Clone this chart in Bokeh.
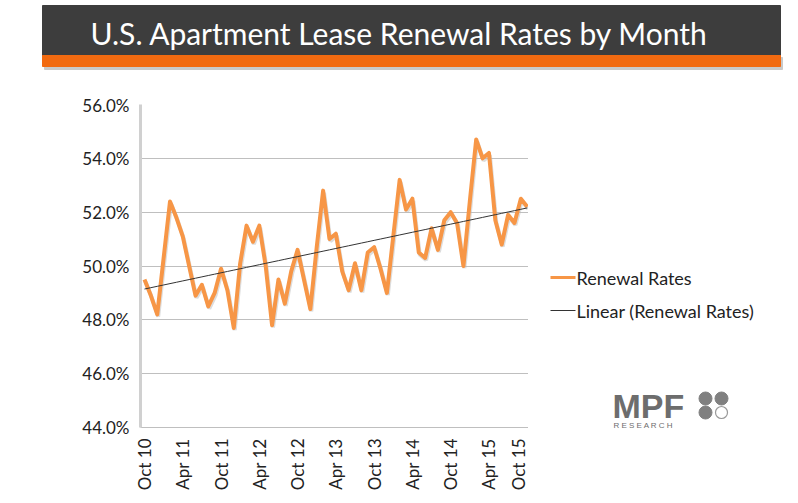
import numpy as np
from bokeh.plotting import figure
from bokeh.layouts import column, row
from bokeh.models import Range1d, FixedTicker, NumeralTickFormatter
from bokeh.core.properties import value
from bokeh.embed import file_html
from bokeh.resources import INLINE

title = "U.S. Apartment Lease Renewal Rates by Month"
rates = [49.5, 48.9, 48.2, 50.3, 52.4, 51.8, 51.1, 50.0, 48.9, 49.3,
         48.5, 49.0, 49.9, 49.1, 47.7, 50.1, 51.5, 50.9, 51.5, 50.0,
         47.8, 49.5, 48.6, 49.8, 50.6, 49.5, 48.4, 50.7, 52.8, 51.0,
         51.2, 49.8, 49.1, 50.1, 49.1, 50.5, 50.7, 49.9, 49.0, 51.1,
         53.2, 52.1, 52.5, 50.5, 50.3, 51.4, 50.6, 51.7, 52.0, 51.6,
         50.0, 52.4, 54.7, 54.0, 54.2, 51.7, 50.8, 51.9, 51.6, 52.5, 52.2]
tick_months = [0, 6, 12, 18, 24, 30, 36, 42, 48, 54, 60]
tick_labels = ["Oct 10", "Apr 11", "Oct 11", "Apr 12", "Oct 12", "Apr 13",
               "Oct 13", "Apr 14", "Oct 14", "Apr 15", "Oct 15"]
y_ticks = [44, 46, 48, 50, 52, 54, 56]

months = np.arange(len(rates))
slope, icpt = np.polyfit(months, rates, 1)
trend = slope * months + icpt
FONT = value("Lato")

# --- header ---
h = figure(width=790, height=94, x_range=Range1d(0, 790), y_range=Range1d(94, 0),
           output_backend="svg", toolbar_location=None, min_border=0)
h.axis.visible = False
h.grid.visible = False
h.outline_line_color = None
h.quad(left=[44], right=[782], top=[57], bottom=[69], color="#c9c9c9")
h.quad(left=[42], right=[780], top=[5], bottom=[55], color="#3d3d3d")
h.quad(left=[42], right=[780], top=[55], bottom=[66], color="#f26a10")
h.text(x=[399], y=[32], text=[title], text_align="center", text_baseline="middle",
       text_color="white", text_font=FONT, text_font_size="30px")

# --- main chart ---
p = figure(width=528, height=403, x_range=Range1d(-0.625, 60.2), y_range=Range1d(44, 56),
           output_backend="svg", toolbar_location=None,
           min_border_left=140, min_border_right=0, min_border_top=10, min_border_bottom=70)
p.outline_line_color = None
p.xgrid.visible = False
p.ygrid.grid_line_color = "#bfbfbf"
p.ygrid.grid_line_width = 1.2
p.yaxis.ticker = FixedTicker(ticks=y_ticks)
p.yaxis.formatter = NumeralTickFormatter(format="0.0")
p.yaxis.major_label_overrides = {t: f"{t:.1f}%" for t in y_ticks}
p.xaxis.ticker = FixedTicker(ticks=tick_months)
p.xaxis.major_label_overrides = dict(zip(tick_months, tick_labels))
p.xaxis.major_label_orientation = np.pi / 2
for ax in (p.xaxis, p.yaxis):
    ax.major_tick_line_color = None
    ax.minor_tick_line_color = None
    ax.major_label_text_font = "Lato"
    ax.major_label_text_font_size = "17px"
    ax.major_label_text_color = "#222222"
p.xaxis.axis_line_color = "#bfbfbf"
p.yaxis.axis_line_color = "#d0d0d0"
p.yaxis.axis_line_width = 3
p.line(months + 0.15, np.array(rates) - 0.08, line_color="#bbbbbb", line_width=4, line_alpha=0.5)
p.line(months, rates, line_color="#f79646", line_width=4, line_join="round")
p.line(months, trend, line_color="#333333", line_width=1)

# --- legend / logo ---
r = figure(frame_width=262, frame_height=403, x_range=Range1d(0, 262), y_range=Range1d(403, 0),
           output_backend="svg", toolbar_location=None, min_border=0)
r.axis.visible = False
r.grid.visible = False
r.outline_line_color = None
r.line([22, 47], [173, 173], line_color="#f79646", line_width=3)
r.line([22, 47], [206, 206], line_color="#333333", line_width=1)
r.text(x=[48, 48], y=[173, 206], text=["Renewal Rates", "Linear (Renewal Rates)"],
       text_baseline="middle", text_font=FONT, text_font_size="18px", text_color="#222222")
r.text(x=[84], y=[301], text=["MPF"], text_baseline="middle", text_font=value("Liberation Sans"),
       text_font_style="bold", text_font_size="34px", text_color="#6d6d6d")
r.scatter(x=[177, 193, 177], y=[294, 294, 308], size=13, color="#808080")
r.scatter(x=[193], y=[308], size=12, fill_color="white", line_color="#999999", line_width=1.2)
r.text(x=[85], y=[321], text=["R    E    S    E    A    R    C    H"], text_baseline="middle",
       text_font=value("Liberation Sans"), text_font_size="8px", text_color="#6d6d6d")

layout = column(h, row(p, r, spacing=0), spacing=0)
open("out.html", "w").write(file_html(layout, INLINE))
